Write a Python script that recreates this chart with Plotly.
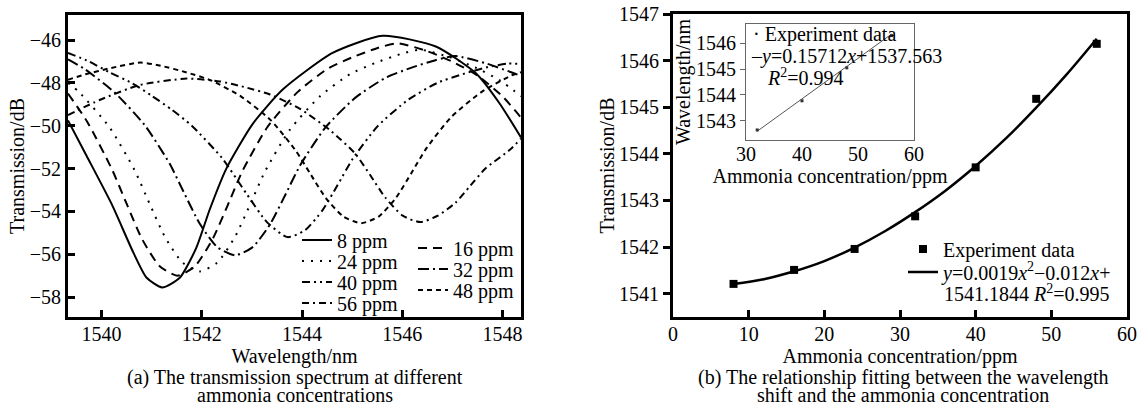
import plotly.graph_objects as go

W, H = 1145, 405
FONT = "Liberation Serif"

# ---------------- panel (a): transmission spectra ----------------
wl_8 = [1539.33, 1539.7, 1540.2, 1540.63, 1540.9, 1541.21, 1541.56, 1541.89, 1542.16, 1542.49,
        1543.02, 1543.62, 1544.61, 1545.61, 1546.67, 1547.47, 1547.94, 1548.37]
tr_8 = [-49.75, -51.4, -53.65, -55.9, -57.1, -57.55, -57.1, -55.7, -53.9, -52.0,
        -49.9, -48.3, -46.6, -45.8, -46.3, -47.55, -48.95, -50.55]

wl_16 = [1539.33, 1539.71, 1540.21, 1540.51, 1540.81, 1541.16, 1541.51, 1541.86, 1542.21, 1542.51, 1542.81,
         1543.31, 1543.91, 1544.51, 1545.01, 1545.51, 1545.91, 1546.51, 1547.01, 1547.51, 1548.01, 1548.37]
tr_16 = [-48.5, -49.8, -52.05, -53.7, -55.3, -56.56, -57.0, -56.57, -55.32, -53.75, -52.12,
         -50.06, -48.43, -47.34, -46.8, -46.37, -46.15, -46.53, -47.02, -47.67, -48.65, -49.62]

wl_24 = [1539.33, 1539.56, 1540.16, 1540.66, 1540.96, 1541.26, 1541.61, 1541.96, 1542.31, 1542.66, 1542.96,
         1543.26, 1543.76, 1544.36, 1544.96, 1545.46, 1545.96, 1546.36, 1546.96, 1547.46, 1547.96, 1548.37]
tr_24 = [-48.0, -48.45, -50.08, -52.08, -53.65, -55.17, -56.38, -56.8, -56.39, -55.2, -53.7,
         -52.14, -50.18, -48.62, -47.59, -47.07, -46.66, -46.45, -46.81, -47.28, -47.9, -48.62]

wl_32 = [1539.33, 1539.66, 1540.26, 1540.86, 1541.36, 1541.66, 1541.96, 1542.31, 1542.66, 1543.01, 1543.36,
         1543.66, 1543.96, 1544.46, 1545.06, 1545.66, 1546.16, 1546.66, 1547.06, 1547.66, 1548.16, 1548.37]
tr_32 = [-46.9, -47.35, -48.45, -49.97, -51.78, -53.2, -54.58, -55.67, -56.05, -55.68, -54.61,
         -53.26, -51.86, -50.1, -48.7, -47.77, -47.31, -46.94, -46.75, -47.08, -47.49, -47.68]

wl_40 = [1539.33, 1539.75, 1540.15, 1540.6, 1541.0, 1541.4, 1541.8, 1542.4, 1542.9, 1543.3, 1543.71,
         1544.06, 1544.41, 1544.71, 1545.01, 1545.51, 1546.11, 1546.71, 1547.21, 1547.71, 1548.11, 1548.37]
tr_40 = [-46.6, -47.0, -47.5, -48.0, -48.6, -49.25, -50.0, -51.5, -53.2, -54.5, -55.2,
         -54.88, -53.94, -52.77, -51.55, -50.02, -48.8, -47.99, -47.59, -47.26, -47.1, -47.12]

wl_48 = [1539.33, 1539.68, 1540.18, 1540.78, 1541.18, 1541.68, 1542.18, 1542.78, 1543.38, 1543.88, 1544.18,
         1544.48, 1544.83, 1545.18, 1545.53, 1545.88, 1546.18, 1546.48, 1546.98, 1547.58, 1548.18, 1548.37]
tr_48 = [-47.85, -47.6, -47.31, -47.05, -47.2, -47.5, -47.88, -48.63, -49.75, -51.18, -52.3,
         -53.39, -54.25, -54.55, -54.24, -53.35, -52.22, -51.06, -49.59, -48.43, -47.65, -47.5]

wl_56 = [1539.33, 1539.96, 1540.76, 1541.7, 1542.36, 1542.86, 1543.36, 1543.96, 1544.56, 1545.06,
         1545.36, 1545.66, 1546.01, 1546.36, 1546.71, 1547.06, 1547.36, 1547.66, 1548.16, 1548.37]
tr_56 = [-49.5, -48.8, -48.1, -47.8, -47.93, -48.2, -48.54, -49.21, -50.21, -51.3,
         -52.3, -53.35, -54.2, -54.5, -54.2, -53.6, -52.8, -52.0, -51.1, -50.6]

spec_names = ["8 ppm", "16 ppm", "24 ppm", "32 ppm", "40 ppm", "48 ppm", "56 ppm"]
spec_x = [wl_8, wl_16, wl_24, wl_32, wl_40, wl_48, wl_56]
spec_y = [tr_8, tr_16, tr_24, tr_32, tr_40, tr_48, tr_56]
spec_dash = ["solid", "9px,6px", "2px,7px", "11px,4px,2px,4px",
             "8px,4px,2px,4px,2px,4px", "5px,4px", "7px,4px,2px,4px"]

a_xticks = [1540, 1542, 1544, 1546, 1548]
a_yticks = [-58, -56, -54, -52, -50, -48, -46]
a_yticktext = ["\u221258", "\u221256", "\u221254", "\u221252", "\u221250", "\u221248", "\u221246"]

# ---------------- panel (b): wavelength vs concentration ----------------
conc = [8, 16, 24, 32, 40, 48, 56]
dip_wl = [1541.21, 1541.51, 1541.96, 1542.66, 1543.71, 1545.18, 1546.36]
fit_conc = [8, 12, 16, 20, 24, 28, 32, 36, 40, 44, 48, 52, 56]
fit_wl = [1541.21, 1541.31, 1541.48, 1541.70, 1541.99, 1542.34, 1542.75,
          1543.21, 1543.74, 1544.33, 1544.99, 1545.70, 1546.47]
b_xticks = [0, 10, 20, 30, 40, 50, 60]
b_yticks = [1541, 1542, 1543, 1544, 1545, 1546, 1547]

# inset
inset_conc = [32, 40, 48, 56]
inset_wl = [1542.64, 1543.77, 1545.05, 1546.3]
inset_line_conc = [32, 56]
inset_line_wl = [1542.59, 1546.36]
inset_xticks = [30, 40, 50, 60]
inset_yticks = [1543, 1544, 1545, 1546]


def px(x):
    return x / W


def py(y):
    return 1 - y / H


fig = go.Figure()

# left panel legends: (x of item origin, y centre) in pixels
leg_pos = [(297, 240), (413, 248), (297, 261), (413, 269), (297, 282), (413, 290), (297, 303)]
for i, name in enumerate(spec_names):
    lname = "legend" if i == 0 else f"legend{i + 1}"
    fig.add_trace(go.Scatter(
        x=spec_x[i], y=spec_y[i], mode="lines", name=name,
        line=dict(color="black", width=2, dash=spec_dash[i], shape="spline", smoothing=0.6),
        xaxis="x", yaxis="y", legend=lname, showlegend=True))

# right panel
fig.add_trace(go.Scatter(
    x=conc, y=dip_wl, mode="markers", name="Experiment data",
    marker=dict(symbol="square", size=8, color="black"),
    xaxis="x2", yaxis="y2", legend="legend8"))
fig.add_trace(go.Scatter(
    x=fit_conc, y=fit_wl, mode="lines",
    name="<i>y</i>=0.0019<i>x</i><sup>2</sup>\u22120.012<i>x</i>+",
    line=dict(color="black", width=2.5, shape="spline"),
    xaxis="x2", yaxis="y2", legend="legend9"))

# inset
fig.add_trace(go.Scatter(
    x=inset_line_conc, y=inset_line_wl, mode="lines", showlegend=False,
    line=dict(color="#555555", width=1), xaxis="x3", yaxis="y3"))
fig.add_trace(go.Scatter(
    x=inset_conc, y=inset_wl, mode="markers", showlegend=False,
    marker=dict(symbol="square", size=3, color="#333333"), xaxis="x3", yaxis="y3"))


def f(size=20):
    return dict(family=FONT, size=size, color="black")


axis_common = dict(showgrid=False, zeroline=False, showline=True, mirror=True, automargin=False,
                   linecolor="black", linewidth=3, tickfont=f(), tickcolor="black")
inset_common = dict(showgrid=False, zeroline=False, showline=True, mirror=True, automargin=False,
                    linecolor="#666666", linewidth=1, tickfont=f())

layout = dict(
    width=W, height=H, margin=dict(l=0, r=0, t=0, b=0, autoexpand=False),
    paper_bgcolor="white", plot_bgcolor="white", font=f(),
    xaxis=dict(axis_common, domain=[px(68), px(521)], range=[1539.33, 1548.37],
               tickvals=a_xticks, ticks="inside", ticklen=7, tickwidth=3, anchor="y",
               ticklabelstandoff=-3,
               title=dict(text="Wavelength/nm", font=f(), standoff=0)),
    yaxis=dict(axis_common, domain=[py(317), py(15)], range=[-58.93, -44.83],
               tickvals=a_yticks, ticktext=a_yticktext, ticks="inside", ticklen=7, tickwidth=3,
               anchor="x", title=dict(text="Transmission/dB", font=f(), standoff=0)),
    xaxis2=dict(axis_common, domain=[px(673), px(1127)], range=[0, 60],
                tickvals=b_xticks, ticks="inside", ticklen=7, tickwidth=3, anchor="y2",
                ticklabelstandoff=-3,
                title=dict(text="Ammonia concentration/ppm", font=f(), standoff=0)),
    yaxis2=dict(axis_common, domain=[py(317), py(14)], range=[1540.5, 1547.0],
                tickvals=b_yticks, ticks="outside", ticklen=7, tickwidth=3, anchor="x2",
                title=dict(text="Transmission/dB", font=f(), standoff=0)),
    xaxis3=dict(inset_common, domain=[px(746), px(914)], range=[30, 60], tickvals=inset_xticks,
                ticks="", anchor="y3", ticklabelstandoff=-4,
                title=dict(text="Ammonia concentration/ppm", font=f(), standoff=0)),
    yaxis3=dict(inset_common, domain=[py(140), py(24)], range=[1542.25, 1546.75],
                tickvals=inset_yticks, ticks="outside", ticklen=5, tickcolor="#666666", anchor="x3",
                title=dict(text="Wavelength/nm", font=f(), standoff=0)),
    showlegend=True,
)

leg_common = dict(bgcolor="rgba(0,0,0,0)", borderwidth=0, font=f(),
                  xanchor="left", yanchor="middle", itemwidth=30, tracegroupgap=0)
for i, (lx, ly) in enumerate(leg_pos):
    lname = "legend" if i == 0 else f"legend{i + 1}"
    layout[lname] = dict(leg_common, x=px(lx), y=py(ly))
layout["legend8"] = dict(leg_common, x=px(903), y=py(249))
layout["legend9"] = dict(leg_common, x=px(903), y=py(272))


def note(text, x, y, xanchor="left"):
    return dict(text=text, x=px(x), y=py(y), xref="paper", yref="paper", xanchor=xanchor,
                yanchor="middle", showarrow=False, font=f())


layout["annotations"] = [
    note("(a) The transmission spectrum at different", 295, 377, "center"),
    note("ammonia concentrations", 295, 395, "center"),
    note("(b) The relationship fitting between the wavelength", 903, 377, "center"),
    note("shift and the ammonia concentration", 903, 395, "center"),
    note("1541.1844 <i>R</i><sup>2</sup>=0.995", 942, 293),
    note("\u00b7 Experiment data", 751, 35),
    note("\u2013<i>y</i>=0.15712<i>x</i>+1537.563", 749, 57),
    note("<i>R</i><sup>2</sup>=0.994", 765, 77),
]

fig.update_layout(layout)
fig.write_html("out.html", config={"displayModeBar": False},
               post_script="document.body.style.margin='0';document.body.style.overflow='hidden';")
